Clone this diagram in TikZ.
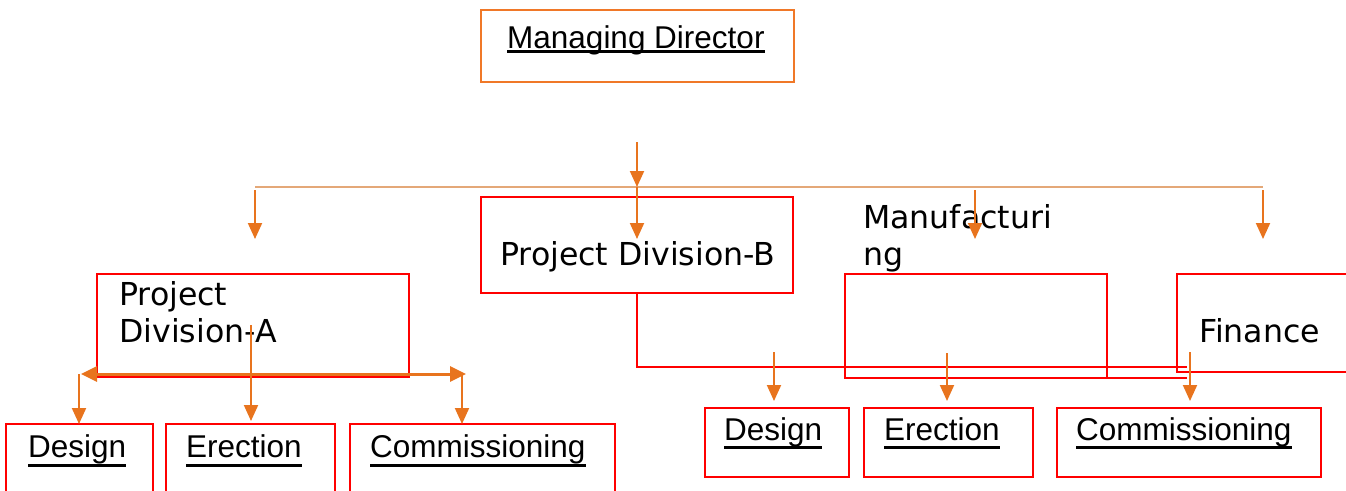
\documentclass[tikz,border=0pt]{standalone}
\usepackage{fontspec}
\setmainfont{Liberation Sans}
\newfontfamily\dvfont{DejaVu Sans}
\usetikzlibrary{arrows.meta}
\definecolor{org}{HTML}{E8741E}
\definecolor{tan}{HTML}{E4A878}
\definecolor{mdorg}{HTML}{F07828}
\newcommand\ulx[2]{\setbox0\hbox{#2}\rlap{\usebox0}\rule[-#1]{\wd0}{2.6pt}}
\tikzset{
  redbox/.style={draw=red, line width=2.8pt, inner sep=0pt, outer sep=0pt},
  mdbox/.style={draw=mdorg, line width=2pt, inner sep=0pt, outer sep=0pt},
  lbl/.style={anchor=base west, inner sep=0pt, font=\fontsize{31.5}{37}\selectfont},
  dlbl/.style={anchor=base west, inner sep=0pt, font=\dvfont\fontsize{31.6}{37}\selectfont},
  oarr/.style={draw=org, line width=2pt, -{Triangle[length=16pt,width=14pt]}},
  tanline/.style={draw=tan, line width=2pt},
  redline/.style={draw=red, line width=2.8pt},
}
\begin{document}
\begin{tikzpicture}[x=1pt,y=-1pt]
\useasboundingbox (0,0) rectangle (1346,490);
\clip (0,0) rectangle (1346,490);
% boxes
\node[mdbox, minimum width=313pt, minimum height=72pt] (md) at (637.5,46) {};
\node[redbox, minimum width=312pt, minimum height=96pt] (pdb) at (637,245) {};
\node[redbox, minimum width=262pt, minimum height=104pt] (mfg) at (976,326) {};
\node[redbox, minimum width=183pt, minimum height=98pt] (fin) at (1268.5,323) {};
\node[redbox, minimum width=312pt, minimum height=103pt] (pda) at (253,325.5) {};
\node[redbox, minimum width=147pt, minimum height=76pt] (ld) at (79.5,462) {};
\node[redbox, minimum width=169pt, minimum height=76pt] (le) at (250.5,462) {};
\node[redbox, minimum width=265pt, minimum height=76pt] (lc) at (482.5,462) {};
\node[redbox, minimum width=144pt, minimum height=69pt] (rd) at (777,442.5) {};
\node[redbox, minimum width=169pt, minimum height=69pt] (re) at (948.5,442.5) {};
\node[redbox, minimum width=264pt, minimum height=69pt] (rc) at (1189,442.5) {};
% texts
\node[lbl] (tmd) at (507,48) {\ulx{5pt}{Managing Director}};
\node[dlbl] (tpdb) at (500,265) {Project Division-B};
\node[dlbl] (tmfg1) at (863,228) {Manufacturi};
\node[dlbl] (tmfg2) at (863,265) {ng};
\node[dlbl] (tpda1) at (119,305) {Project};
\node[dlbl] (tpda2) at (119,342) {Division-A};
\node[dlbl] (tfin) at (1199,342) {Finance};
\node[lbl] (tld) at (28,457) {\ulx{10pt}{Design}};
\node[lbl] (tle) at (186,457) {\ulx{10pt}{Erection}};
\node[lbl] (tlc) at (370,457) {\ulx{10pt}{Commissioning}};
\node[lbl] (trd) at (724,440) {\ulx{9pt}{Design}};
\node[lbl] (tre) at (884,440) {\ulx{9pt}{Erection}};
\node[lbl] (trc) at (1076,440) {\ulx{9pt}{Commissioning}};
% coordinates
\coordinate (top) at (637,142);
\coordinate (bus) at (637,187);
\coordinate (busl) at (255,187);
\coordinate (busr) at (1263,187);
\coordinate (a1s) at (255,190); \coordinate (a1e) at (255,239);
\coordinate (a2e) at (637,239);
\coordinate (a3s) at (975,190); \coordinate (a3e) at (975,239);
\coordinate (a4s) at (1263,190); \coordinate (a4e) at (1263,239);
\coordinate (rj) at (1187,367);
\coordinate (rj2) at (1187,378);
\coordinate (b1s) at (774,352); \coordinate (b1e) at (774,401);
\coordinate (b2s) at (947,353); \coordinate (b2e) at (947,401);
\coordinate (b3s) at (1190,352); \coordinate (b3e) at (1190,401);
\coordinate (pas) at (251,325); \coordinate (pae) at (251,421);
\coordinate (hl) at (81,374); \coordinate (hr) at (466,374);
\coordinate (c1s) at (79,374); \coordinate (c1e) at (79,424);
\coordinate (c2s) at (462,374); \coordinate (c2e) at (462,424);
% connectors
\draw[tanline] (busl) -- (busr);
\draw[oarr] (top) -- (bus);
\draw[oarr] (a1s) -- (a1e);
\draw[oarr] (bus) -- (a2e);
\draw[oarr] (a3s) -- (a3e);
\draw[oarr] (a4s) -- (a4e);
\draw[redline] (pdb.south) |- (rj);
\draw[redline] (mfg.south east) -- (rj2);
\draw[oarr] (b1s) -- (b1e);
\draw[oarr] (b2s) -- (b2e);
\draw[oarr] (b3s) -- (b3e);
\draw[oarr] (pas) -- (pae);
\draw[draw=org, line width=3pt, {Triangle[length=16pt,width=15pt]}-{Triangle[length=16pt,width=15pt]}] (hl) -- (hr);
\draw[oarr] (c1s) -- (c1e);
\draw[oarr] (c2s) -- (c2e);
\end{tikzpicture}
\end{document}
